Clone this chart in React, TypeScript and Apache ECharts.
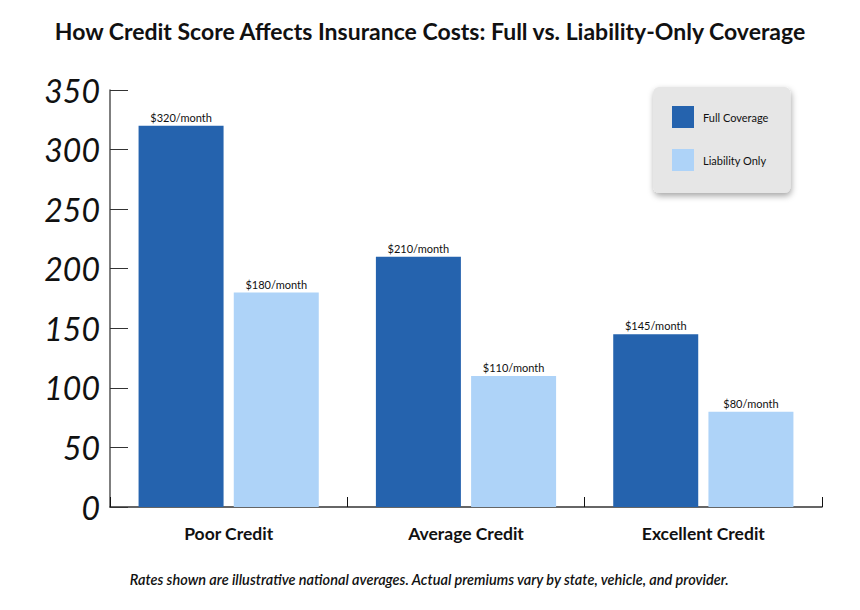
import React, { useEffect, useRef } from "react";
import * as echarts from "echarts";

const categories = ["Poor Credit", "Average Credit", "Excellent Credit"];
const fullCoverage = [320, 210, 145];
const liabilityOnly = [180, 110, 80];
const seriesNames = ["Full Coverage", "Liability Only"];
const titleText = "How Credit Score Affects Insurance Costs: Full vs. Liability-Only Coverage";
const footnote = "Rates shown are illustrative national averages. Actual premiums vary by state, vehicle, and provider.";

const FONT = "Lato, 'Open Sans', sans-serif";

export default function App() {
  const ref = useRef<HTMLDivElement>(null);
  useEffect(() => {
    if (!ref.current) return;
    const chart = echarts.init(ref.current, null, { renderer: "svg" });
    const label = {
      show: true,
      position: "top",
      distance: 3,
      fontSize: 11,
      color: "#111",
      fontFamily: FONT,
      formatter: (p: any) => `$${p.value}/month`,
    };
    chart.setOption({
      animation: false,
      backgroundColor: "#fff",
      title: {
        text: titleText,
        left: "center",
        top: 14,
        textStyle: { fontFamily: FONT, fontWeight: "bold", fontSize: 23, color: "#111" },
      },
      graphic: [
        {
          type: "text",
          left: "center",
          top: 572,
          style: {
            text: footnote,
            font: `italic 600 14.5px ${FONT}`,
            fill: "#111",
          },
        },
      ],
      legend: {
        orient: "vertical",
        left: 653,
        top: 87,
        data: seriesNames,
        icon: "rect",
        itemWidth: 22,
        itemHeight: 22,
        itemGap: 21,
        padding: [19, 22, 22, 19],
        backgroundColor: "#e6e6e6",
        borderRadius: 6,
        shadowBlur: 6,
        shadowOffsetY: 3,
        shadowOffsetX: 1,
        shadowColor: "rgba(0,0,0,0.35)",
        textStyle: { fontFamily: FONT, fontSize: 11, color: "#111", padding: [0, 0, 0, 4] },
      },
      grid: { left: 110, right: 38, top: 90, bottom: 103 },
      xAxis: {
        type: "category",
        data: categories,
        axisLine: { lineStyle: { color: "#333", width: 1.5 } },
        axisTick: { show: true, inside: true, length: 10, lineStyle: { color: "#111" } },
        axisLabel: { fontFamily: FONT, fontSize: 17.5, fontWeight: "bold", color: "#111", margin: 17 },
      },
      yAxis: {
        type: "value",
        min: 0,
        max: 350,
        interval: 50,
        splitLine: { show: false },
        axisLine: { show: true, lineStyle: { color: "#555", width: 1.5 } },
        axisTick: { show: true, inside: true, length: 18, lineStyle: { color: "#333" } },
        axisLabel: { fontFamily: FONT, fontSize: 32, fontStyle: "italic", color: "#111", margin: 10 },
      },
      series: [
        {
          name: seriesNames[0],
          type: "bar",
          data: fullCoverage,
          barWidth: 85,
          barGap: "12%",
          itemStyle: { color: "#2563ae" },
          label,
        },
        {
          name: seriesNames[1],
          type: "bar",
          data: liabilityOnly,
          barWidth: 85,
          itemStyle: { color: "#aed3f8" },
          label,
        },
      ],
    });
    return () => chart.dispose();
  }, []);
  return <div ref={ref} style={{ position: "absolute", left: 0, top: 0, width: 860, height: 610 }} />;
}
